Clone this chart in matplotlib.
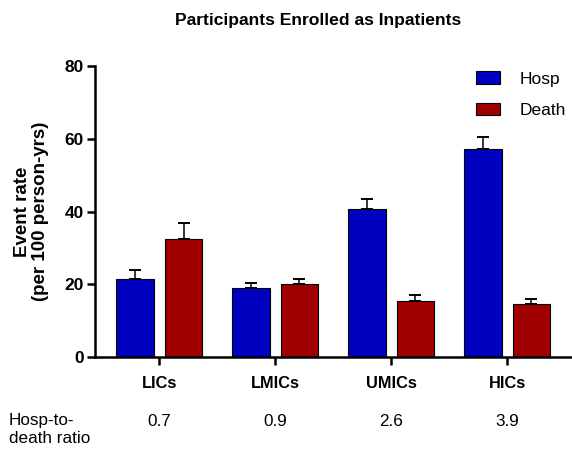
import numpy as np
import matplotlib.pyplot as plt
import matplotlib.transforms as mtransforms

plt.rcParams['font.family'] = ['Liberation Sans', 'DejaVu Sans']

categories = ['LICs', 'LMICs', 'UMICs', 'HICs']
hosp = [21.4, 19.0, 40.6, 57.3]
hosp_err = [2.5, 1.4, 2.9, 3.3]
death = [32.5, 20.1, 15.4, 14.5]
death_err = [4.3, 1.4, 1.7, 1.4]
ratios = ['0.7', '0.9', '2.6', '3.9']

blue = '#0000C0'
red = '#A00000'

fig = plt.figure(figsize=(5.72, 4.55), dpi=100)
ax = fig.add_axes([95 / 572, 1 - 357 / 455, 1 - 95 / 572, 291 / 455])

x = np.arange(len(categories))
w = 0.324
off = 0.209
ekw = dict(elinewidth=1.1, capthick=1.4, ecolor='black')
ax.bar(x - off, hosp, w, color=blue, edgecolor='black', linewidth=0.8,
       yerr=[np.zeros(4), hosp_err], capsize=4.5, error_kw=ekw, label='Hosp')
ax.bar(x + off, death, w, color=red, edgecolor='black', linewidth=0.8,
       yerr=[np.zeros(4), death_err], capsize=4.5, error_kw=ekw, label='Death')

ax.set_xlim(-0.555, 3.56)
ax.set_ylim(0, 80)
ax.set_yticks([0, 20, 40, 60, 80])
ax.set_xticks(x)
ax.set_xticklabels(categories, fontsize=11.8, fontweight='bold')
for lab in ax.get_yticklabels():
    lab.set_fontweight('bold')
    lab.set_fontsize(12.5)
ax.tick_params(axis='both', width=1.8, length=6, pad=2)
ax.tick_params(axis='x', pad=8)
for s in ['top', 'right']:
    ax.spines[s].set_visible(False)
for s in ['left', 'bottom']:
    ax.spines[s].set_linewidth(1.8)

ax.set_ylabel('Event rate\n(per 100 person-yrs)', fontsize=13.5, fontweight='bold',
              labelpad=11, linespacing=1.1)

fig.text(318 / 572, 1 - 20 / 455, 'Participants Enrolled as Inpatients',
         ha='center', va='center', fontsize=12.6, fontweight='bold')

ax.legend(loc='upper right', bbox_to_anchor=(1.02, 1.035), frameon=False,
          fontsize=12.5, handlelength=1.4, handleheight=0.7, labelspacing=0.95,
          handletextpad=1.1)

trans = mtransforms.blended_transform_factory(ax.transData, fig.transFigure)
for xi, r in zip(x, ratios):
    ax.text(xi, 1 - 421 / 455, r, transform=trans, ha='center', va='center',
            fontsize=12.3, clip_on=False)
fig.text(9 / 572, 1 - 413 / 455, 'Hosp-to-\ndeath ratio', ha='left', va='top',
         fontsize=12.3, linespacing=1.25)

fig.savefig('out.png', dpi=100)
